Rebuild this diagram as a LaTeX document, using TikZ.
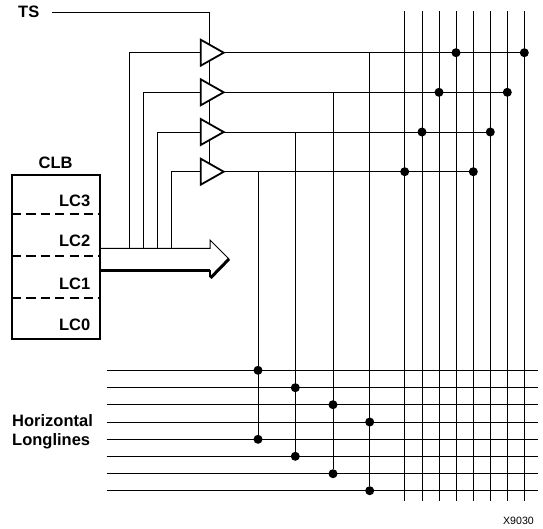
\documentclass[tikz,border=0pt]{standalone}
\usepackage{fontspec}
\setmainfont{Liberation Sans}
\usetikzlibrary{shapes.geometric}
\tikzset{
  wire/.style={line width=1pt},
  lbl/.style={font=\fontsize{16.5}{19}\selectfont\bfseries,inner sep=0pt},
  bufgate/.style={draw,fill=white,line width=1.8pt,isosceles triangle,isosceles triangle stretches,
    shape border rotate=0,minimum width=26pt,minimum height=23pt,inner sep=0pt,outer sep=0pt,anchor=lower side},
  junction/.style={circle,fill=black,inner sep=0pt,minimum size=9pt}
}
\begin{document}
\begin{tikzpicture}[x=1pt,y=-1pt,line join=miter]
  \useasboundingbox (0,0) rectangle (543,528);
  % long vertical lines on the right
  \foreach \i/\x in {1/404.7,2/422,3/439,4/456,5/473.3,6/490.3,7/507.3,8/524.3} {
    \coordinate (vtop\i) at (\x,11);
    \coordinate (vbot\i) at (\x,500.7);
    \draw[wire] (vtop\i) -- (vbot\i);
  }
  % horizontal longlines
  \foreach \i/\y in {1/370.3,2/387.7,3/404.7,4/422,5/439.3,6/456.3,7/473.7,8/490.7} {
    \coordinate (hleft\i) at (106.7,\y);
    \coordinate (hright\i) at (537.7,\y);
    \draw[wire] (hleft\i) -- (hright\i);
  }
  % TS line
  \node[lbl,anchor=base west] (ts) at (18,17.7) {TS};
  \coordinate (tsleft) at (52,12);
  \coordinate (tscorner) at (209.7,12);
  \coordinate (tsend) at (209.7,172);
  \draw[wire] (tsleft) -- (tscorner) -- (tsend);
  % CLB block
  \node[draw,line width=1.9pt,minimum width=88.3pt,minimum height=164pt,inner sep=0pt,outer sep=0pt,anchor=north west] (clb) at (12,174.7) {};
  \node[lbl] (clbname) at (55.7,163) {CLB};
  \node[lbl,anchor=east] (lc3) at (90.5,200.7) {LC3};
  \node[lbl,anchor=east] (lc2) at (90.5,241) {LC2};
  \node[lbl,anchor=east] (lc1) at (90.5,283.7) {LC1};
  \node[lbl,anchor=east] (lc0) at (90.5,325) {LC0};
  \foreach \y in {213.6,256,298} {
    \draw[line width=1.8pt,dash pattern=on 9.2pt off 5.2pt] (12,\y) -- (100.3,\y);
  }
  % bus arrow
  \coordinate (busa) at (100.3,248.3);
  \coordinate (busb) at (210,248.3);
  \coordinate (busc) at (210,240);
  \coordinate (bustip) at (229,259);
  \coordinate (busd) at (210.5,278);
  \coordinate (buse) at (210,270);
  \coordinate (busf) at (100.3,270);
  \draw[wire] (busa) -- (busb) -- (busc) -- (bustip);
  \draw[line width=3pt] (busf) -- (buse);
  \draw[line width=3pt] (bustip) -- (busd);
  \draw[line width=1.5pt] (buse) -- (210,277);
  % buffers, inputs and outputs
  \foreach \i/\y/\xin/\xdrop/\xend/\xfirst/\ybot/\ylow/\yhigh in {
    1/52.7/129.7/369.7/524.3/456/490.7/422/490.7,
    2/92.3/143.7/333/507.3/439/473.7/404.7/473.7,
    3/132/157.3/295.3/490.3/422/456.3/387.7/456.3,
    4/171.7/171.3/258/473.3/404.7/439.3/370.3/439.3} {
    \node[bufgate] (buf\i) at (200.7,\y) {};
    \coordinate (inbot\i) at (\xin,248.3);
    \coordinate (intop\i) at (\xin,\y);
    \draw[wire] (inbot\i) -- (intop\i) -- (buf\i.lower side);
    \node[junction] (far\i) at (\xend,\y) {};
    \node[junction] (near\i) at (\xfirst,\y) {};
    \draw[wire] (buf\i.apex) -- (far\i);
    \coordinate (droptop\i) at (\xdrop,\y);
    \node[junction] (dropa\i) at (\xdrop,\ylow) {};
    \node[junction] (dropb\i) at (\xdrop,\yhigh) {};
    \draw[wire] (droptop\i) -- (dropb\i);
  }
  % labels
  \node[lbl,anchor=base west] (hl1) at (12,426) {Horizontal};
  \node[lbl,anchor=base west] (hl2) at (12,445) {Longlines};
  \node[font=\fontsize{10.6}{12}\selectfont,inner sep=0pt,anchor=east] (xnum) at (534,521) {X9030};
\end{tikzpicture}
\end{document}
